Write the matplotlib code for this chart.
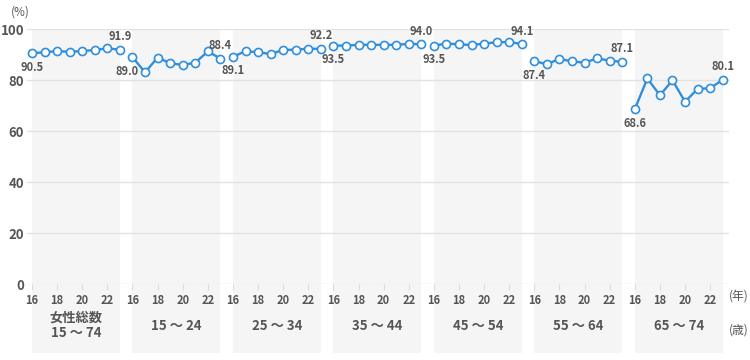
import matplotlib.pyplot as plt
from matplotlib.patches import Rectangle

plt.rcParams['font.family'] = ['Noto Sans CJK JP', 'DejaVu Sans']

years = [16, 17, 18, 19, 20, 21, 22, 23]
groups = ['女性総数\n15 ～ 74', '15 ～ 24', '25 ～ 34', '35 ～ 44',
          '45 ～ 54', '55 ～ 64', '65 ～ 74']
rates = [
    [90.5, 90.9, 91.3, 91.1, 91.3, 91.8, 92.4, 91.9],
    [89.0, 83.0, 88.8, 86.6, 85.9, 86.8, 91.2, 88.4],
    [89.1, 91.3, 90.9, 90.2, 91.8, 91.9, 92.3, 92.2],
    [93.5, 93.5, 93.8, 93.8, 93.8, 93.8, 94.2, 94.0],
    [93.5, 94.3, 94.0, 93.7, 94.3, 94.8, 94.9, 94.1],
    [87.4, 86.2, 88.3, 87.3, 86.8, 88.5, 87.6, 87.1],
    [68.6, 80.6, 74.0, 79.9, 71.5, 76.5, 76.8, 80.1],
]

blue = '#2f8fdc'
grey = '#555555'
nY = len(years)

fig = plt.figure(figsize=(7.5, 3.6), dpi=100)
ax = fig.add_axes([0.036, 0.2111, 0.936, 0.7083])

xticks, xlabels = [], []
for g, (name, vals) in enumerate(zip(groups, rates)):
    xs = [g * nY + k for k in range(nY)]
    # grey panel behind each group, running down under the axis
    ax.add_patch(Rectangle((xs[0], -27), xs[-1] - xs[0], 127,
                           facecolor='#f5f5f5', edgecolor='none',
                           zorder=0, clip_on=False))
    ax.plot(xs, vals, '-o', color=blue, lw=1.7, ms=5.8, mfc='white',
            mec=blue, mew=1.2, zorder=3, clip_on=False)
    # end labels
    dx = -5 if g == 1 else 0
    ax.annotate(f'{vals[0]:.1f}', (xs[0], vals[0]), xytext=(dx, -14),
                textcoords='offset pixels', ha='center', va='center',
                fontsize=8, fontweight='bold', color=grey)
    ax.annotate(f'{vals[-1]:.1f}', (xs[-1], vals[-1]), xytext=(0, 13),
                textcoords='offset pixels', ha='center', va='center',
                fontsize=8, fontweight='bold', color=grey)
    # group label
    ax.text((xs[0] + xs[-1]) / 2, -16.3, name, ha='center', va='center',
            fontsize=9.5, fontweight='bold', color=grey, linespacing=1.1)
    for k in range(0, nY, 2):
        xticks.append(xs[k])
        xlabels.append(str(years[k]))

ax.set_xlim(-0.4, len(groups) * nY - 0.5)
ax.set_ylim(0, 100)
ax.set_yticks(range(0, 101, 20))
ax.set_xticks(xticks)
ax.set_xticklabels(xlabels)
ax.grid(axis='y', color='#e2e2e2', lw=1)
ax.set_axisbelow(True)
for s in ax.spines.values():
    s.set_visible(False)
ax.tick_params(axis='y', length=0, pad=2, labelsize=9.5, labelcolor=grey)
ax.tick_params(axis='x', length=4, color='#dddddd', pad=3,
               labelsize=8, labelcolor=grey)
for lab in ax.get_yticklabels() + ax.get_xticklabels():
    lab.set_fontweight('bold')

fig.text(20 / 750, 1 - 12 / 360, '(%)', ha='center', va='center',
         fontsize=8.5, color=grey)
fig.text(739 / 750, 1 - 296 / 360, '(年)', ha='center', va='center',
         fontsize=8.5, color=grey)
fig.text(739 / 750, 1 - 330 / 360, '(歳)', ha='center', va='center',
         fontsize=8.5, color=grey)

plt.savefig('out.png', dpi=100)
